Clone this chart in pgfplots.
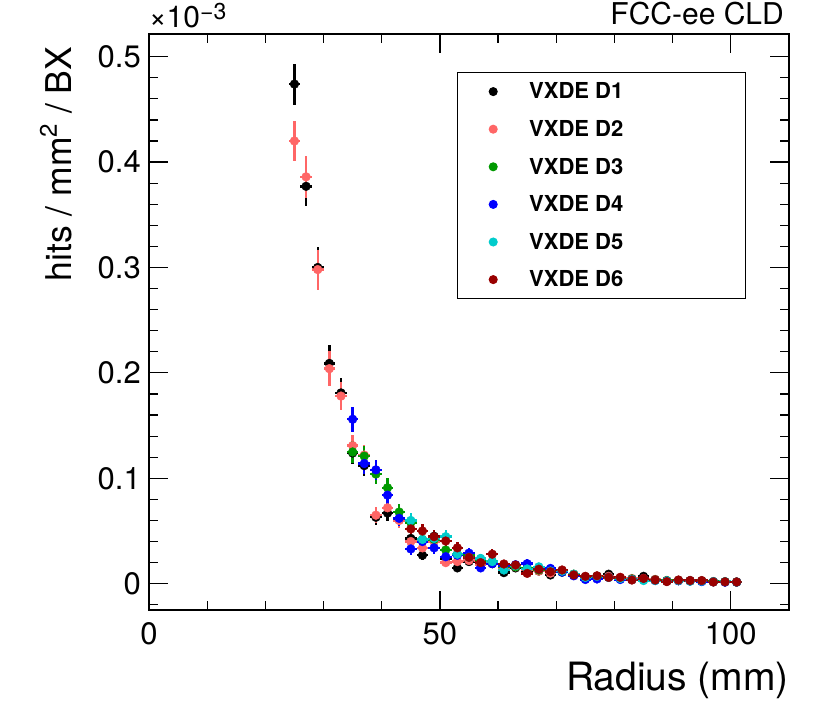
\documentclass[border=0pt]{standalone}
\usepackage{fontspec}
\setmainfont{TeX Gyre Heros}
\usepackage{pgfplots}
\pgfplotsset{compat=1.18}
\usepackage{pgfplotstable}
\definecolor{cA}{RGB}{0,0,0}
\definecolor{cB}{RGB}{255,102,102}
\definecolor{cC}{RGB}{0,153,0}
\definecolor{cD}{RGB}{0,0,255}
\definecolor{cE}{RGB}{0,204,204}
\definecolor{cF}{RGB}{153,0,0}
\pgfplotstableread{
x y e
25 0.474 0.0195
27 0.377 0.019
29 0.300 0.0195
31 0.209 0.017
33 0.181 0.014
35 0.124 0.0105
37 0.112 0.010
39 0.063 0.0075
41 0.067 0.0078
43 0.061 0.0073
45 0.043 0.0062
47 0.027 0.0049
49 0.045 0.0064
51 0.024 0.0046
53 0.015 0.0037
55 0.021 0.0043
57 0.018 0.004
59 0.019 0.0041
61 0.0105 0.003
63 0.015 0.0037
65 0.012 0.0033
67 0.012 0.0033
69 0.0083 0.0027
71 0.011 0.0031
73 0.008 0.0027
75 0.006 0.0023
77 0.006 0.0023
79 0.009 0.0028
81 0.005 0.0021
83 0.0045 0.002
85 0.007 0.0025
87 0.004 0.0019
89 0.0025 0.0015
91 0.003 0.0016
93 0.003 0.0016
95 0.0025 0.0015
97 0.002 0.0013
99 0.0018 0.0013
101 0.0015 0.0012
}\tA
\pgfplotstableread{
x y e
25 0.420 0.019
27 0.386 0.020
29 0.298 0.019
31 0.204 0.0166
33 0.178 0.013
35 0.131 0.0105
37 0.122 0.010
39 0.065 0.0076
41 0.072 0.008
43 0.060 0.0073
45 0.040 0.006
47 0.034 0.0055
49 0.040 0.006
51 0.020 0.0042
53 0.021 0.0043
55 0.022 0.0044
57 0.018 0.004
59 0.020 0.0042
61 0.014 0.0035
63 0.016 0.0038
65 0.013 0.0034
67 0.012 0.0033
69 0.010 0.003
71 0.012 0.0033
73 0.009 0.0028
75 0.006 0.0023
77 0.007 0.0025
79 0.007 0.0025
81 0.006 0.0023
83 0.005 0.0021
85 0.005 0.0021
87 0.004 0.0019
89 0.003 0.0016
91 0.003 0.0016
93 0.0028 0.0016
95 0.0025 0.0015
97 0.002 0.0013
99 0.002 0.0013
101 0.0018 0.0013
}\tB
\pgfplotstableread{
x y e
35 0.125 0.0105
37 0.121 0.010
39 0.104 0.0095
41 0.091 0.009
43 0.068 0.0078
45 0.058 0.0072
47 0.042 0.0061
49 0.042 0.0061
51 0.032 0.0054
53 0.028 0.005
55 0.027 0.0049
57 0.021 0.0043
59 0.021 0.0043
61 0.016 0.0038
63 0.016 0.0038
65 0.015 0.0037
67 0.013 0.0034
69 0.012 0.0033
71 0.011 0.0031
73 0.009 0.0028
75 0.0065 0.0024
77 0.007 0.0025
79 0.006 0.0023
81 0.005 0.0021
83 0.0045 0.002
85 0.004 0.0019
87 0.0035 0.0018
89 0.003 0.0016
91 0.003 0.0016
93 0.0025 0.0015
95 0.0025 0.0015
97 0.002 0.0013
99 0.0018 0.0013
101 0.0016 0.0012
}\tC
\pgfplotstableread{
x y e
35 0.156 0.012
37 0.114 0.010
39 0.108 0.0097
41 0.084 0.0087
43 0.062 0.0075
45 0.033 0.0054
47 0.040 0.006
49 0.034 0.0055
51 0.0256 0.0048
53 0.027 0.0049
55 0.029 0.0051
57 0.015 0.0037
59 0.019 0.0041
61 0.017 0.0039
63 0.018 0.004
65 0.019 0.0041
67 0.014 0.0035
69 0.0145 0.0036
71 0.011 0.0031
73 0.0075 0.0026
75 0.004 0.0019
77 0.0045 0.002
79 0.006 0.0023
81 0.004 0.0019
83 0.004 0.0019
85 0.0045 0.002
87 0.003 0.0016
89 0.0025 0.0015
91 0.0028 0.0016
93 0.0025 0.0015
95 0.002 0.0013
97 0.0018 0.0013
99 0.0015 0.0012
101 0.0015 0.0012
}\tD
\pgfplotstableread{
x y e
45 0.060 0.0073
47 0.042 0.0061
49 0.043 0.0062
51 0.0446 0.0063
53 0.028 0.005
55 0.025 0.0047
57 0.024 0.0046
59 0.021 0.0043
61 0.013 0.0034
63 0.017 0.0039
65 0.014 0.0035
67 0.016 0.0038
69 0.012 0.0033
71 0.012 0.0033
73 0.009 0.0028
75 0.006 0.0023
77 0.007 0.0025
79 0.006 0.0023
81 0.005 0.0021
83 0.004 0.0019
85 0.003 0.0016
87 0.003 0.0016
89 0.0025 0.0015
91 0.003 0.0016
93 0.0025 0.0015
95 0.0025 0.0015
97 0.0018 0.0013
99 0.002 0.0013
101 0.0015 0.0012
}\tE
\pgfplotstableread{
x y e
45 0.052 0.0067
47 0.050 0.0066
49 0.0446 0.0063
51 0.0405 0.006
53 0.034 0.0055
55 0.025 0.0047
57 0.0200 0.0042
59 0.028 0.005
61 0.0187 0.0041
63 0.0177 0.004
65 0.0098 0.003
67 0.0137 0.0035
69 0.0114 0.0032
71 0.013 0.0034
73 0.0083 0.0027
75 0.0070 0.0025
77 0.0075 0.0026
79 0.006 0.0023
81 0.006 0.0023
83 0.0035 0.0018
85 0.005 0.0021
87 0.0035 0.0018
89 0.002 0.0013
91 0.0035 0.0018
93 0.003 0.0016
95 0.003 0.0016
97 0.0016 0.0012
99 0.0018 0.0013
101 0.0016 0.0012
}\tF
\begin{document}
\begin{tikzpicture}
\useasboundingbox (-149pt,-100pt) rectangle (681pt,610pt);
\begin{axis}[
  at={(0pt,0pt)}, anchor=south west,
  scale only axis, width=640pt, height=576pt,
  xmin=0, xmax=110, ymin=-0.02495, ymax=0.5215,
  xtick={0,50,100},
  minor xtick={10,20,30,40,60,70,80,90},
  ytick={0,0.1,0.2,0.3,0.4,0.5},
  minor ytick={-0.02,0.02,0.04,0.06,0.08,0.12,0.14,0.16,0.18,0.22,0.24,0.26,0.28,0.32,0.34,0.36,0.38,0.42,0.44,0.46,0.48},
  tick align=inside,
  major tick length=19pt, minor tick length=9.5pt,
  every tick/.style={black, line width=1.2pt},
  axis line style={line width=1.3pt},
  /pgf/number format/assume math mode=true,
  tick label style={font=\fontsize{31}{37}\selectfont},
  xticklabel style={inner sep=0pt, anchor=north, yshift=-12pt},
  yticklabel style={inner sep=0pt, anchor=east, xshift=-8pt},
  xlabel={Radius (mm)},
  xlabel style={at={(rel axis cs:1,-0.1389)}, anchor=base east, inner sep=0pt, font=\fontsize{39}{46}\selectfont},
  ylabel={hits / mm\raisebox{0.42em}{\fontsize{24}{29}\selectfont 2} / BX},
  ylabel style={at={(rel axis cs:-0.1208,0.978)}, anchor=base east, inner sep=0pt, font=\fontsize{35.5}{42}\selectfont},
  legend cell align=left,
  legend style={at={(rel axis cs:0.4808,0.9335)}, anchor=north west, draw=black, line width=1pt,
    inner sep=0pt, row sep=0pt, column sep=0pt,
    font=\fontsize{22}{26}\selectfont\bfseries, nodes={inner sep=0pt}},
  legend image code/.code={\path[draw=none,fill=none] (-36pt,-18.8pt) rectangle (36pt,18.8pt); \fill (0pt,0pt) circle (4pt);},
  clip=false,
  every axis plot/.append style={only marks, mark=*, mark size=4.4pt,
    error bars/x dir=both, error bars/x fixed=1, error bars/y dir=both, error bars/y explicit,
    error bars/error mark=none, error bars/error bar style={line width=2.4pt}},
]
\addplot[color=cA] table[x=x,y=y,y error=e] {\tA};
\addlegendentry{\makebox[216pt][l]{VXDE D1}}
\addplot[color=cB] table[x=x,y=y,y error=e] {\tB};
\addlegendentry{\makebox[216pt][l]{VXDE D2}}
\addplot[color=cC] table[x=x,y=y,y error=e] {\tC};
\addlegendentry{\makebox[216pt][l]{VXDE D3}}
\addplot[color=cD] table[x=x,y=y,y error=e] {\tD};
\addlegendentry{\makebox[216pt][l]{VXDE D4}}
\addplot[color=cE] table[x=x,y=y,y error=e] {\tE};
\addlegendentry{\makebox[216pt][l]{VXDE D5}}
\addplot[color=cF] table[x=x,y=y,y error=e] {\tF};
\addlegendentry{\makebox[216pt][l]{VXDE D6}}
\node[anchor=base west, inner sep=0pt, font=\fontsize{30}{36}\selectfont] at (rel axis cs:0,1) [yshift=6pt] {×10\raisebox{8pt}{\fontsize{23}{28}\selectfont −3}};
\node[anchor=base east, inner sep=0pt, font=\fontsize{30}{36}\selectfont] at (rel axis cs:1,1) [xshift=-5pt, yshift=9pt] {FCC-ee CLD};
\end{axis}
\end{tikzpicture}
\end{document}
